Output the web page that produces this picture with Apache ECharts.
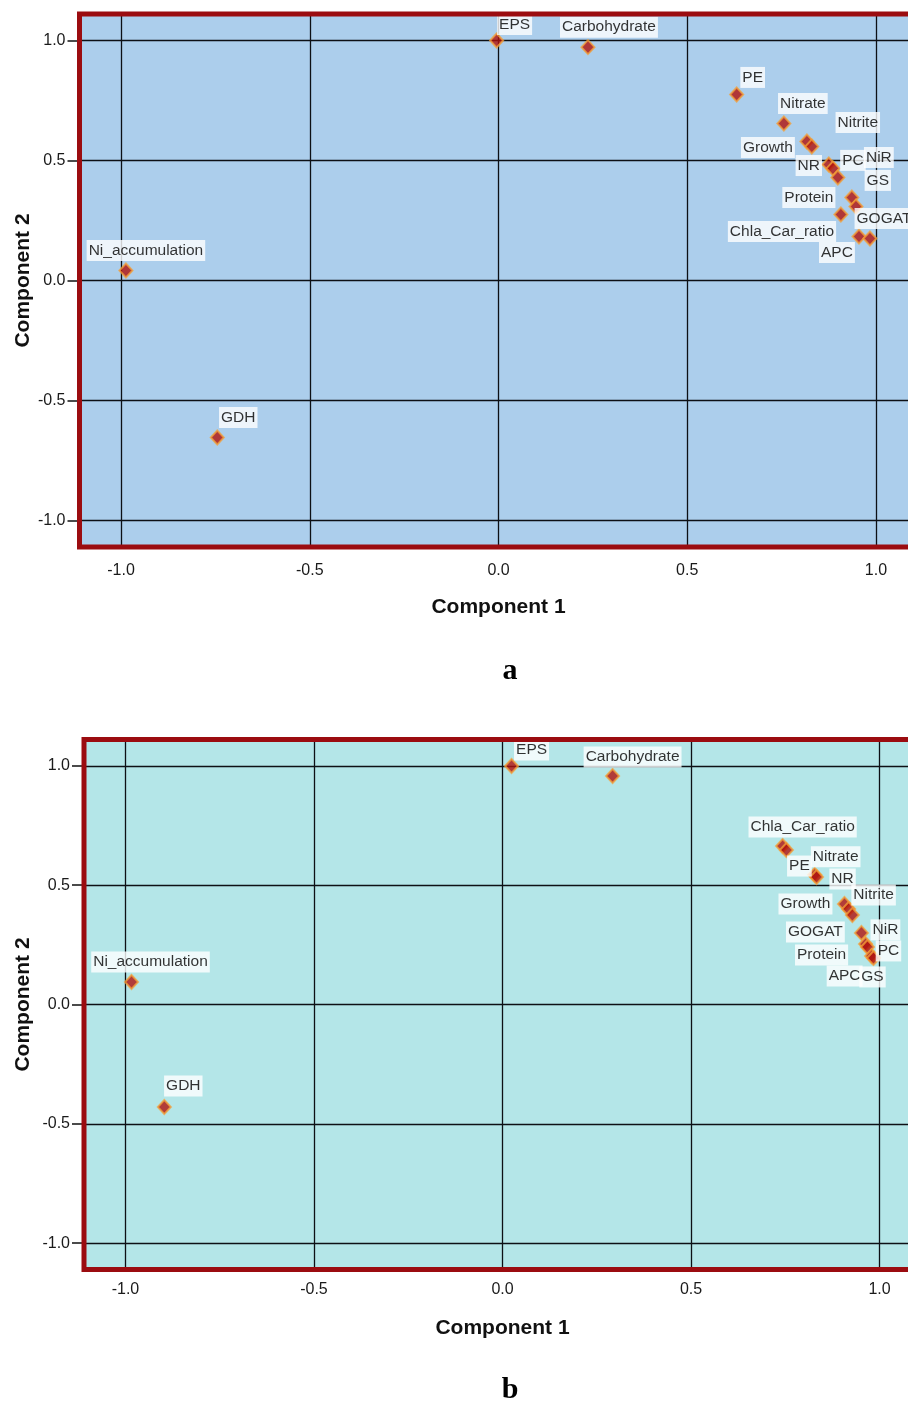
<!DOCTYPE html>
<html>
<head>
<meta charset="utf-8">
<script src="https://cdn.jsdelivr.net/npm/echarts@6/dist/echarts.min.js"></script>
<style>
html,body{margin:0;padding:0;background:#fff;}
#chart{width:908px;height:1403px;}
</style>
</head>
<body>
<div id="chart"></div>
<script>
// ---- data ----
const xTicks = [-1.0, -0.5, 0.0, 0.5, 1.0];
const yTicks = [-1.0, -0.5, 0.0, 0.5, 1.0];
const xTitle = 'Component 1';
const yTitle = 'Component 2';
const panelTitles = ['a', 'b'];

const varsA  = ['EPS','Carbohydrate','PE','Nitrate','Growth','Nitrite','NR','PC','NiR','GS','GOGAT','Protein','Chla_Car_ratio','APC','Ni_accumulation','GDH'];
const comp1A = [-0.005, 0.237, 0.631, 0.756, 0.817, 0.830, 0.875, 0.886, 0.899, 0.936, 0.947, 0.907, 0.955, 0.984, -0.987, -0.745];
const comp2A = [ 1.000, 0.972, 0.775, 0.654, 0.579, 0.558, 0.483, 0.467, 0.429, 0.346, 0.308, 0.275, 0.183, 0.175,  0.042, -0.654];

const varsB  = ['EPS','Carbohydrate','Chla_Car_ratio','PE','Nitrate','NR','Growth','Nitrite','GOGAT','NiR','Protein','PC','APC','GS','Ni_accumulation','GDH'];
const comp1B = [0.024, 0.292, 0.743, 0.753, 0.828, 0.833, 0.907, 0.918, 0.928, 0.952, 0.963, 0.968, 0.979, 0.984, -0.984, -0.897];
const comp2B = [0.999, 0.957, 0.664, 0.647, 0.543, 0.534, 0.421, 0.400, 0.375, 0.300, 0.253, 0.241, 0.203, 0.195,  0.094, -0.429];

// ---- label placement (pixel offsets of each label from its point) ----
const labelOffsetA = {
  'EPS':[18,-16],'Carbohydrate':[21,-20],'PE':[16,-17],'Nitrate':[19,-20],
  'Nitrite':[46,-24],'Growth':[-39,6],'NR':[-20,1],'PC':[20,-8],'NiR':[41,-20],
  'GS':[26,-17],'Protein':[-32,-17],'GOGAT':[28,12],'Chla_Car_ratio':[-77,-5],
  'APC':[-33,14],'Ni_accumulation':[20,-20],'GDH':[21,-20]
};
const labelOffsetB = {
  'EPS':[20,-16],'Carbohydrate':[20,-19],'Chla_Car_ratio':[20,-19],'PE':[13,16],
  'Nitrate':[21,-18],'NR':[26,2],'Nitrite':[25,-14],'Growth':[-39,0],'GOGAT':[-37,17],
  'NiR':[24,-3],'Protein':[-44,11],'PC':[21,4],'APC':[-27,20],'GS':[-1,19],
  'Ni_accumulation':[19,-20],'GDH':[19,-21]
};

const FONT = 'Liberation Sans, Arial, sans-serif';
const RED = '#9B0C10';

function buildData(names, xs, ys, offs){
  return names.map((n,i)=>({
    name:n, value:[xs[i], ys[i]],
    label:{offset: offs[n] || [0,-18]}
  }));
}

const fmt = v => {
  const hit = yTicks.concat(xTicks).some(t => Math.abs(t - v) < 1e-9);
  return hit ? Number(v).toFixed(1) : '';
};

const gridRects = [
  {left:79.5, top:14, width:838, height:533},
  {left:84, top:739.5, width:837, height:530}
];
const bgColors = ['#ACCEEC', '#B4E6E8'];
const xLabelMargin = [16, 12];
const xNameGap = [50, 48];
const yNameGap = [46, 50];

const grid = [];
gridRects.forEach((r,i)=>{
  grid.push(Object.assign({show:true, backgroundColor:bgColors[i], borderWidth:0, outerBoundsMode:'none', containLabel:false}, r));
});
gridRects.forEach((r,i)=>{
  grid.push(Object.assign({show:true, backgroundColor:'transparent', borderColor:RED, borderWidth:5, z:5, outerBoundsMode:'none', containLabel:false}, r));
});

const xAxis = [0,1].map(i=>({
  type:'value', gridIndex:i, min:-1.11, max:1.11,
  name:xTitle, nameLocation:'middle', nameGap:xNameGap[i], nameMoveOverlap:false,
  nameTextStyle:{fontFamily:FONT, fontWeight:'bold', fontSize:21, color:'#111'},
  axisLine:{show:false, onZero:false},
  axisTick:{show:false},
  axisLabel:{customValues:xTicks, formatter:fmt, margin:xLabelMargin[i], fontFamily:FONT, fontSize:16, color:'#1a1a1a'},
  splitLine:{show:true, lineStyle:{color:'#0d1015', width:1.3}}
}));
const yAxis = [0,1].map(i=>({
  type:'value', gridIndex:i, min:-1.11, max:1.11,
  name:yTitle, nameLocation:'middle', nameGap:yNameGap[i], nameRotate:90, nameMoveOverlap:false,
  nameTextStyle:{fontFamily:FONT, fontWeight:'bold', fontSize:21, color:'#111'},
  axisLine:{show:false, onZero:false},
  axisTick:{show:true, customValues:yTicks, length:12, lineStyle:{color:'#111', width:1.5}},
  axisLabel:{customValues:yTicks, formatter:fmt, margin:14, fontFamily:FONT, fontSize:16, color:'#1a1a1a'},
  splitLine:{show:true, lineStyle:{color:'#0d1015', width:1.3}}
}));

function scatter(i, data){
  return {
    type:'scatter', xAxisIndex:i, yAxisIndex:i,
    data:data, symbol:'diamond', symbolSize:[13,14],
    itemStyle:{color:'#B0120C', borderColor:'rgba(245,160,55,0.95)', borderWidth:2},
    label:{show:true, position:'inside', formatter:'{b}', color:'#000',
      fontFamily:FONT, fontSize:15.5, backgroundColor:'#ffffff', padding:[3,2,2,2]},
    emphasis:{disabled:true},
    animation:false
  };
}

const option = {
  animation:false,
  grid:grid,
  xAxis:xAxis,
  yAxis:yAxis,
  series:[
    scatter(0, buildData(varsA, comp1A, comp2A, labelOffsetA)),
    scatter(1, buildData(varsB, comp1B, comp2B, labelOffsetB))
  ],
  graphic:[
    {type:'text', x:510, y:671, style:{text:panelTitles[0], fontFamily:'Liberation Serif, Times New Roman, serif', fontWeight:'bold', fontSize:30, fill:'#000', textAlign:'center', textVerticalAlign:'middle'}},
    {type:'text', x:510, y:1390, style:{text:panelTitles[1], fontFamily:'Liberation Serif, Times New Roman, serif', fontWeight:'bold', fontSize:30, fill:'#000', textAlign:'center', textVerticalAlign:'middle'}}
  ]
};

const chart = echarts.init(document.getElementById('chart'), null, {renderer:'canvas'});
chart.setOption(option);
</script>
</body>
</html>
